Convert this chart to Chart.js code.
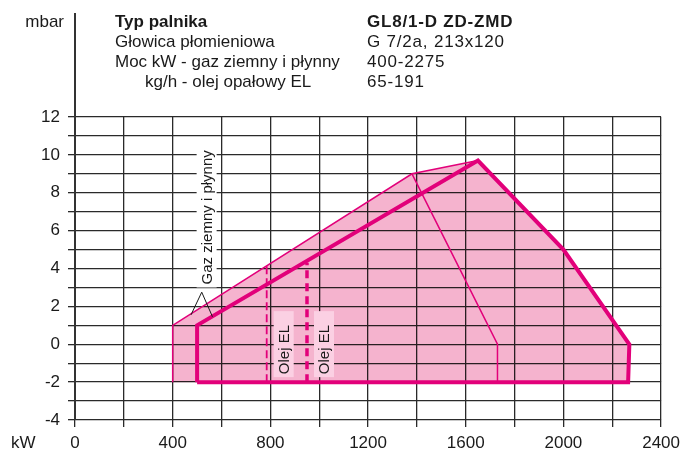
<!DOCTYPE html>
<html>
<head>
<meta charset="utf-8">
<script src="https://cdn.jsdelivr.net/npm/chart.js@4/dist/chart.umd.min.js"></script>
<style>
  html, body { margin: 0; padding: 0; background: #fff; }
</style>
</head>
<body>
<canvas id="chart" width="686" height="455"></canvas>
<script>
// working range (kW / mbar)
const rangeKw     = [400, 400, 1380, 1650, 2000, 2270, 2265, 400];
const rangeMbar   = [-2, 1, 9, 9.7, 5, 0, -2, -2];
// thin outline (left part + top link)
const thinKw      = [400, 400, 1380, 1650];
const thinMbar    = [-2, 1, 9, 9.7];
// thin inner edge going down
const innerKw     = [1380, 1730, 1730];
const innerMbar   = [9, 0, -2];
// bold outline
const boldKw      = [500, 500, 1650, 2000, 2270, 2265, 500];
const boldMbar    = [-2, 1, 9.7, 5, 0, -2, -2];
// oil limits (dashed)
const oilMinKw    = [785, 785];
const oilMinMbar  = [-2, 4.14];
const oilMaxKw    = [950, 950];
const oilMaxMbar  = [-2, 4.3];

const xTickStep = 200, xLabelStep = 400;
const yTickStep = 1, yLabelStep = 2;

const headerRows = [
  ['Typ palnika', 'GL8/1-D ZD-ZMD', true, 0],
  ['Głowica płomieniowa', 'G 7/2a, 213x120', false, 0],
  ['Moc kW - gaz ziemny i płynny', '400-2275', false, 0],
  ['kg/h - olej opałowy EL', '65-191', false, 30]
];

const magenta = '#e2007a';
const pinkFill = '#f5b3ce';
const FONT = "'Liberation Sans', Arial, Helvetica, sans-serif";

const pts = (xs, ys) => xs.map((x, i) => ({ x: x, y: ys[i] }));

const lineDs = (xs, ys, w, dash, order) => ({
  data: pts(xs, ys),
  borderColor: magenta,
  borderWidth: w,
  borderDash: dash,
  borderJoinStyle: 'miter',
  borderCapStyle: 'butt',
  pointRadius: 0,
  fill: false,
  tension: 0,
  order: order
});

const extras = {
  id: 'extras',
  beforeDraw(chart) {
    const c = chart.ctx;
    c.save();
    c.fillStyle = '#fff';
    c.fillRect(0, 0, chart.width, chart.height);
    c.restore();
  },
  beforeDatasetsDraw(chart) {
    chart.ctx.save();
    chart.ctx.globalCompositeOperation = 'multiply';
  },
  afterDatasetDraw(chart, args) {
    if (args.index === 0) chart.ctx.globalCompositeOperation = 'source-over';
  },
  afterDatasetsDraw(chart) {
    chart.ctx.restore();
  },
  afterDraw(chart) {
    const c = chart.ctx;
    const xs = chart.scales.x, ys = chart.scales.y;
    const x0 = xs.getPixelForValue(0);

    // axis line going up into the header
    c.save();
    c.strokeStyle = '#333';
    c.lineWidth = 2;
    c.beginPath();
    c.moveTo(x0, chart.chartArea.top);
    c.lineTo(x0, 13);
    c.stroke();

    // header
    c.fillStyle = '#1a1a1a';
    c.textBaseline = 'middle';
    c.textAlign = 'left';
    headerRows.forEach((r, i) => {
      const y = 22 + i * 20;
      c.font = (r[2] ? 'bold ' : '') + '17px ' + FONT;
      c.letterSpacing = '0px';
      c.fillText(r[0], 115 + r[3], y);
      c.letterSpacing = '0.8px';
      c.fillText(r[1], 367, y);
    });
    c.letterSpacing = '0px';
    c.font = '17px ' + FONT;
    c.textAlign = 'right';
    c.fillText('mbar', 64, 22);
    c.textAlign = 'left';
    c.fillText('kW', 11, 443);

    // rotated label helper
    const vLabel = (text, cx, bottom, len, bg) => {
      c.save();
      c.translate(cx, bottom);
      c.rotate(-Math.PI / 2);
      c.fillStyle = bg;
      c.fillRect(0, -10, len, 20);
      c.fillStyle = '#1a1a1a';
      c.font = '15px ' + FONT;
      c.textAlign = 'left';
      c.textBaseline = 'middle';
      c.fillText(text, 3, 1);
      c.restore();
    };

    // "Olej EL" tags next to dashed oil limits
    [oilMinKw[0], oilMaxKw[0]].forEach(kw => {
      const px = xs.getPixelForValue(kw);
      vLabel('Olej EL', px + 17, ys.getPixelForValue(-2) - 5, 66, '#fbd0e3');
    });

    // gas label + leader lines
    const gx = xs.getPixelForValue(539);
    vLabel('Gaz ziemny i płynny', gx, ys.getPixelForValue(3.0), 134, '#fff');
    c.strokeStyle = '#1a1a1a';
    c.lineWidth = 1;
    c.beginPath();
    c.moveTo(xs.getPixelForValue(475), ys.getPixelForValue(1.55));
    c.lineTo(xs.getPixelForValue(519), ys.getPixelForValue(2.75));
    c.lineTo(xs.getPixelForValue(563), ys.getPixelForValue(1.45));
    c.stroke();
    c.restore();
  }
};

new Chart(document.getElementById('chart'), {
  type: 'line',
  data: {
    datasets: [
      {
        data: pts(rangeKw, rangeMbar),
        borderWidth: 0,
        borderColor: 'rgba(0,0,0,0)',
        backgroundColor: pinkFill,
        fill: 'shape',
        pointRadius: 0,
        order: 10
      },
      lineDs(thinKw, thinMbar, 1.5, [], 5),
      lineDs(innerKw, innerMbar, 1.5, [], 4),
      lineDs(oilMinKw, oilMinMbar, 1.8, [8, 4], 3),
      lineDs(oilMaxKw, oilMaxMbar, 3.5, [8, 5], 2),
      lineDs(boldKw, boldMbar, 4, [], 1)
    ]
  },
  options: {
    responsive: false,
    animation: false,
    layout: { padding: { top: 117, right: 21, left: 0, bottom: 0 } },
    plugins: {
      legend: { display: false },
      tooltip: { enabled: false }
    },
    scales: {
      x: {
        type: 'linear',
        min: 0,
        max: 2400,
        afterFit: s => { s.height = 35; },
        border: { display: false },
        grid: { color: '#2a2a2a', lineWidth: 1.3, tickLength: 7 },
        ticks: {
          stepSize: xTickStep,
          autoSkip: false,
          maxRotation: 0,
          padding: 6,
          color: '#1a1a1a',
          font: { family: FONT, size: 17 },
          callback: v => (v % xLabelStep === 0 ? v : '')
        }
      },
      y: {
        min: -4,
        max: 12,
        afterFit: s => { s.width = 75; },
        border: { display: true, color: '#333', width: 2 },
        grid: { color: '#2a2a2a', lineWidth: 1.3, tickLength: 7 },
        ticks: {
          stepSize: yTickStep,
          autoSkip: false,
          padding: 8,
          color: '#1a1a1a',
          font: { family: FONT, size: 17 },
          callback: v => (v % yLabelStep === 0 ? v : '')
        }
      }
    }
  },
  plugins: [extras]
});
</script>
</body>
</html>
